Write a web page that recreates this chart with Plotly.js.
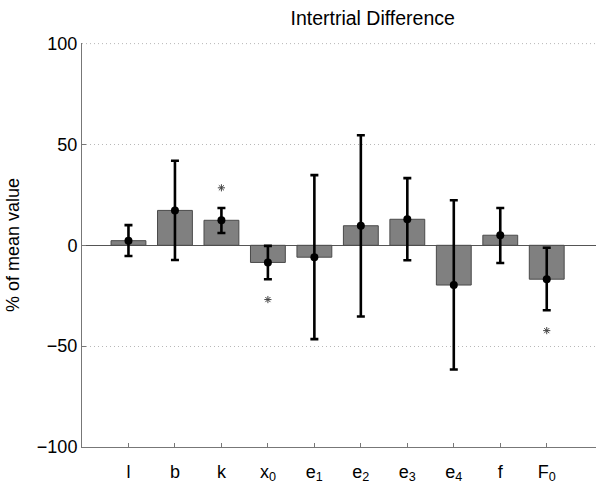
<!DOCTYPE html>
<html>
<head>
<meta charset="utf-8">
<script src="https://cdn.plot.ly/plotly-3.0.1.min.js"></script>
<style>html,body{margin:0;padding:0;background:#fff;}#chart{width:600px;height:487px;}</style>
</head>
<body>
<div id="chart"></div>
<script>
const categories = ["l", "b", "k", "x<sub>0</sub>", "e<sub>1</sub>", "e<sub>2</sub>", "e<sub>3</sub>", "e<sub>4</sub>", "f", "F<sub>0</sub>"];
const meanValues = [2.3, 17.3, 12.4, -8.5, -5.9, 9.7, 12.9, -19.7, 5.0, -16.8];
const upperBounds = [10.0, 41.9, 18.5, -0.3, 34.8, 54.6, 33.3, 22.3, 18.5, -1.2];
const lowerBounds = [-5.3, -7.3, 6.1, -16.8, -46.5, -35.3, -7.4, -61.6, -8.8, -32.2];
const starCategories = [3, 4, 10];
const starValues = [28.5, -26.9, -42.3];
const yTicks = [-100, -50, 0, 50, 100];

const xpos = categories.map((c, i) => i + 1);
const errPlus = meanValues.map((v, i) => upperBounds[i] - v);
const errMinus = meanValues.map((v, i) => v - lowerBounds[i]);

const font = "Liberation Sans, Arial, Helvetica, sans-serif";

const data = [
  {
    type: "bar",
    x: xpos,
    y: meanValues,
    width: 0.75,
    marker: {color: "#808080", line: {color: "#4a4a4a", width: 1}},
    hoverinfo: "skip"
  },
  {
    type: "scatter",
    mode: "markers",
    x: xpos,
    y: meanValues,
    marker: {color: "#000", size: 8},
    error_y: {type: "data", symmetric: false, array: errPlus, arrayminus: errMinus,
              color: "#000", thickness: 2.6, width: 4}
  },
  {
    type: "scatter",
    mode: "markers",
    x: starCategories,
    y: starValues,
    marker: {symbol: "asterisk-open", size: 6, color: "#444", line: {color: "#444", width: 1}}
  }
];

const topTick = yTicks[yTicks.length - 1];

const layout = {
  width: 600, height: 487,
  margin: {l: 82, r: 4, t: 43, b: 40},
  paper_bgcolor: "#fff", plot_bgcolor: "#fff",
  showlegend: false,
  font: {family: font, color: "#000"},
  title: {text: "Intertrial Difference", font: {size: 19.5, family: font, color: "#000"},
          x: 0.5655, xref: "paper", xanchor: "center", y: 0.962, yref: "container", yanchor: "middle"},
  shapes: [{type: "line", xref: "paper", x0: 0, x1: 1, yref: "y", y0: topTick, y1: topTick,
            layer: "below", line: {color: "#b8b8b8", width: 1, dash: "1px,3px"}}],
  xaxis: {
    range: [0, 11.06],
    tickvals: xpos, ticktext: categories,
    ticks: "inside", ticklen: 4, tickcolor: "#777", tickwidth: 1,
    showline: true, linecolor: "#777", linewidth: 1,
    showgrid: false, zeroline: false,
    tickfont: {size: 18, family: font, color: "#000"},
    ticklabelstandoff: 8
  },
  yaxis: {
    range: [-100, 100.3],
    tickvals: yTicks,
    ticks: "inside", ticklen: 4, tickcolor: "#777", tickwidth: 1,
    showline: true, linecolor: "#777", linewidth: 1,
    showgrid: true, gridcolor: "#b8b8b8", griddash: "1px,3px", gridwidth: 1,
    zeroline: true, zerolinecolor: "#555", zerolinewidth: 1,
    tickfont: {size: 18, family: font, color: "#000"},
    title: {text: "% of mean value", font: {size: 18, family: font, color: "#000"}, standoff: 12}
  }
};

Plotly.newPlot("chart", data, layout, {displayModeBar: false, staticPlot: true});
</script>
</body>
</html>
